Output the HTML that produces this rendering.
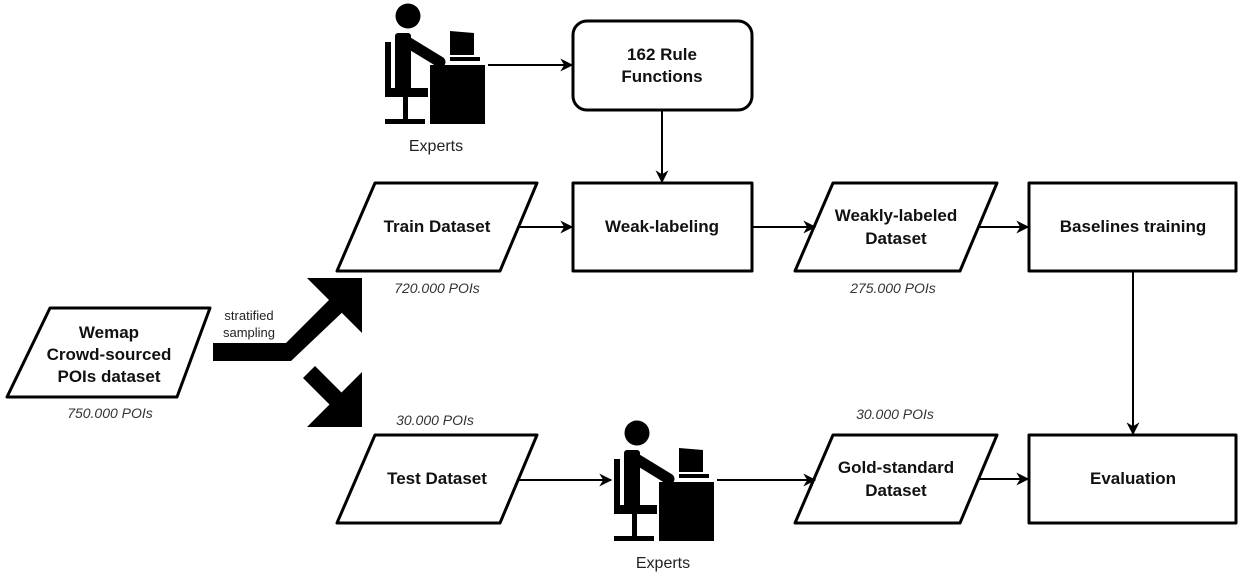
<!DOCTYPE html>
<html><head><meta charset="utf-8"><style>
html,body{margin:0;padding:0;background:#fff;width:1248px;height:576px;overflow:hidden}
svg{display:block}
.b{font-family:"Liberation Sans",Arial,sans-serif;font-weight:bold;font-size:17px;fill:#111;text-anchor:middle}
.i{font-family:"Liberation Sans",Arial,sans-serif;font-style:italic;font-size:14px;fill:#333;text-anchor:middle}
.n{font-family:"Liberation Sans",Arial,sans-serif;font-size:16px;fill:#222;text-anchor:middle}
.s{font-family:"Liberation Sans",Arial,sans-serif;font-size:13px;fill:#222;text-anchor:middle}
.sh{fill:#fff;stroke:#000;stroke-width:3;stroke-linejoin:round}
.ln{stroke:#000;stroke-width:2;fill:none}
</style></head><body>
<svg width="1248" height="576" viewBox="0 0 1248 576" xmlns="http://www.w3.org/2000/svg">
<defs>
<marker id="a" viewBox="0 0 10 10" refX="9" refY="5" markerWidth="13" markerHeight="13" markerUnits="userSpaceOnUse" orient="auto">
<path d="M0,0 L10,5 L0,10 L3,5 Z" fill="#000"/></marker>
<g id="ic">
<circle cx="408" cy="16" r="12.5" fill="#000"/>
<rect x="385" y="42" width="6" height="55" fill="#000"/>
<rect x="395" y="33" width="16" height="58" rx="3" fill="#000"/>
<line x1="404" y1="40" x2="440" y2="62" stroke="#000" stroke-width="11" stroke-linecap="round"/>
<rect x="385" y="88" width="43" height="9" fill="#000"/>
<rect x="403" y="97" width="5" height="23" fill="#000"/>
<rect x="385" y="119" width="40" height="5" fill="#000"/>
<rect x="430" y="65" width="55" height="59" fill="#000"/>
<path d="M450,31 L474,33 L474,55 L450,55 Z" fill="#000"/>
<rect x="450" y="57" width="30" height="4" fill="#000"/>
</g>
</defs>

<use href="#ic"/>
<text class="n" x="436" y="151">Experts</text>
<use href="#ic" transform="translate(229,417)"/>
<text class="n" x="663" y="568">Experts</text>

<rect class="sh" x="573" y="21" width="179" height="89" rx="14"/>
<text class="b" x="662" y="60">162 Rule</text>
<text class="b" x="662" y="82">Functions</text>

<path class="sh" d="M375,183 L537,183 L500,271 L337,271 Z"/>
<text class="b" x="437" y="232">Train Dataset</text>
<text class="i" x="437" y="293">720.000 POIs</text>

<rect class="sh" x="573" y="183" width="179" height="88"/>
<text class="b" x="662" y="232">Weak-labeling</text>

<path class="sh" d="M833,183 L997,183 L960,271 L795,271 Z"/>
<text class="b" x="896" y="221">Weakly-labeled</text>
<text class="b" x="896" y="244">Dataset</text>
<text class="i" x="893" y="293">275.000 POIs</text>

<rect class="sh" x="1029" y="183" width="207" height="88"/>
<text class="b" x="1133" y="232">Baselines training</text>

<path class="sh" d="M50,308 L210,308 L177,397 L7,397 Z"/>
<text class="b" x="109" y="338">Wemap</text>
<text class="b" x="109" y="360">Crowd-sourced</text>
<text class="b" x="109" y="382">POIs dataset</text>
<text class="i" x="110" y="418">750.000 POIs</text>

<path class="sh" d="M375,435 L537,435 L500,523 L337,523 Z"/>
<text class="b" x="437" y="484">Test Dataset</text>
<text class="i" x="435" y="425">30.000 POIs</text>

<path class="sh" d="M833,435 L997,435 L960,523 L795,523 Z"/>
<text class="b" x="896" y="473">Gold-standard</text>
<text class="b" x="896" y="496">Dataset</text>
<text class="i" x="895" y="419">30.000 POIs</text>

<rect class="sh" x="1029" y="435" width="207" height="88"/>
<text class="b" x="1133" y="484">Evaluation</text>

<line class="ln" x1="488" y1="65" x2="572" y2="65" marker-end="url(#a)"/>
<line class="ln" x1="662" y1="110" x2="662" y2="182" marker-end="url(#a)"/>
<line class="ln" x1="518" y1="227" x2="572" y2="227" marker-end="url(#a)"/>
<line class="ln" x1="752" y1="227" x2="815" y2="227" marker-end="url(#a)"/>
<line class="ln" x1="979" y1="227" x2="1028" y2="227" marker-end="url(#a)"/>
<line class="ln" x1="1133" y1="271" x2="1133" y2="434" marker-end="url(#a)"/>
<line class="ln" x1="518" y1="480" x2="611" y2="480" marker-end="url(#a)"/>
<line class="ln" x1="717" y1="480" x2="815" y2="480" marker-end="url(#a)"/>
<line class="ln" x1="979" y1="479" x2="1028" y2="479" marker-end="url(#a)"/>

<text class="s" x="249" y="320">stratified</text>
<text class="s" x="249" y="337">sampling</text>
<path d="M213,343 L286,343 L336,293 L349,306 L291,361 L213,361 Z" fill="#000"/>
<path d="M307,278 L362,278 L362,333 Z" fill="#000"/>
<path d="M303,378 L315,366 L345,396 L333,408 Z" fill="#000"/>
<path d="M307,427 L362,427 L362,372 Z" fill="#000"/>
</svg>
</body></html>
